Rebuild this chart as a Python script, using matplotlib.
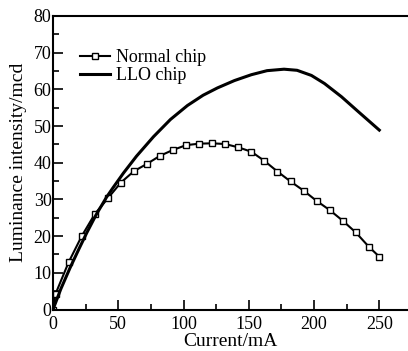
import matplotlib
matplotlib.use("Agg")
import matplotlib.pyplot as plt
from matplotlib.ticker import MultipleLocator

# Normal chip (markers every ~10 mA)
normal_x = [0, 2, 12, 22, 32, 42, 52, 62, 72, 82, 92, 102, 112, 122, 132,
            142, 152, 162, 172, 182, 192, 202, 212, 222, 232, 242, 250]
normal_y = [0, 4.3, 12.9, 20.0, 26.0, 30.3, 34.6, 37.7, 39.7, 41.9, 43.5, 44.8,
            45.2, 45.3, 45.1, 44.2, 43.0, 40.5, 37.6, 34.9, 32.4, 29.6, 27.1,
            24.2, 21.0, 17.1, 14.4]

# LLO chip (smooth curve)
llo_x = [0, 6, 13, 20, 26, 33, 41, 46, 54, 64, 77, 90, 103, 115, 126, 139,
         152, 164, 177, 187, 198, 208, 221, 234, 250]
llo_y = [0, 5.6, 11.3, 16.6, 21.0, 25.8, 30.6, 33.2, 37.2, 41.8, 47.1, 51.8,
         55.6, 58.4, 60.4, 62.4, 64.0, 65.1, 65.5, 65.2, 63.8, 61.6, 58.0,
         53.9, 48.9]

plt.rcParams['font.family'] = ['Liberation Serif', 'DejaVu Serif']

fig = plt.figure(figsize=(4.08, 3.51), dpi=100)
ax = fig.add_axes([53 / 408, 41.5 / 351, 1 - 53 / 408, 293.5 / 351])

ax.plot(normal_x, normal_y, '-s', color='black', lw=1.5, ms=4.5,
        mfc='white', mec='black', mew=1.0, label='Normal chip')
ax.plot(llo_x, llo_y, '-', color='black', lw=2.2, label='LLO chip')

ax.set_xlim(0, 272)
ax.set_ylim(0, 80)
ax.xaxis.set_major_locator(MultipleLocator(50))
ax.xaxis.set_minor_locator(MultipleLocator(25))
ax.yaxis.set_major_locator(MultipleLocator(10))
ax.yaxis.set_minor_locator(MultipleLocator(5))
ax.tick_params(which='both', direction='in', top=False, right=False,
               labelsize=13, width=1.2)
ax.tick_params(which='major', length=7)
ax.tick_params(which='minor', length=4.5)
ax.tick_params(axis='y', pad=1)
ax.tick_params(axis='x', pad=5)
ax.spines['right'].set_visible(False)
for s in ['left', 'bottom', 'top']:
    ax.spines[s].set_linewidth(1.5)

ax.set_xlabel('Current/mA', fontsize=14, labelpad=0)
ax.set_ylabel('Luminance intensity/mcd', fontsize=14, labelpad=5)

ax.legend(loc='upper left', bbox_to_anchor=(0.055, 0.911), frameon=False,
          fontsize=13, handlelength=1.7, handletextpad=0.3, labelspacing=0.05,
          borderaxespad=0)

fig.savefig('out.png', dpi=100)
